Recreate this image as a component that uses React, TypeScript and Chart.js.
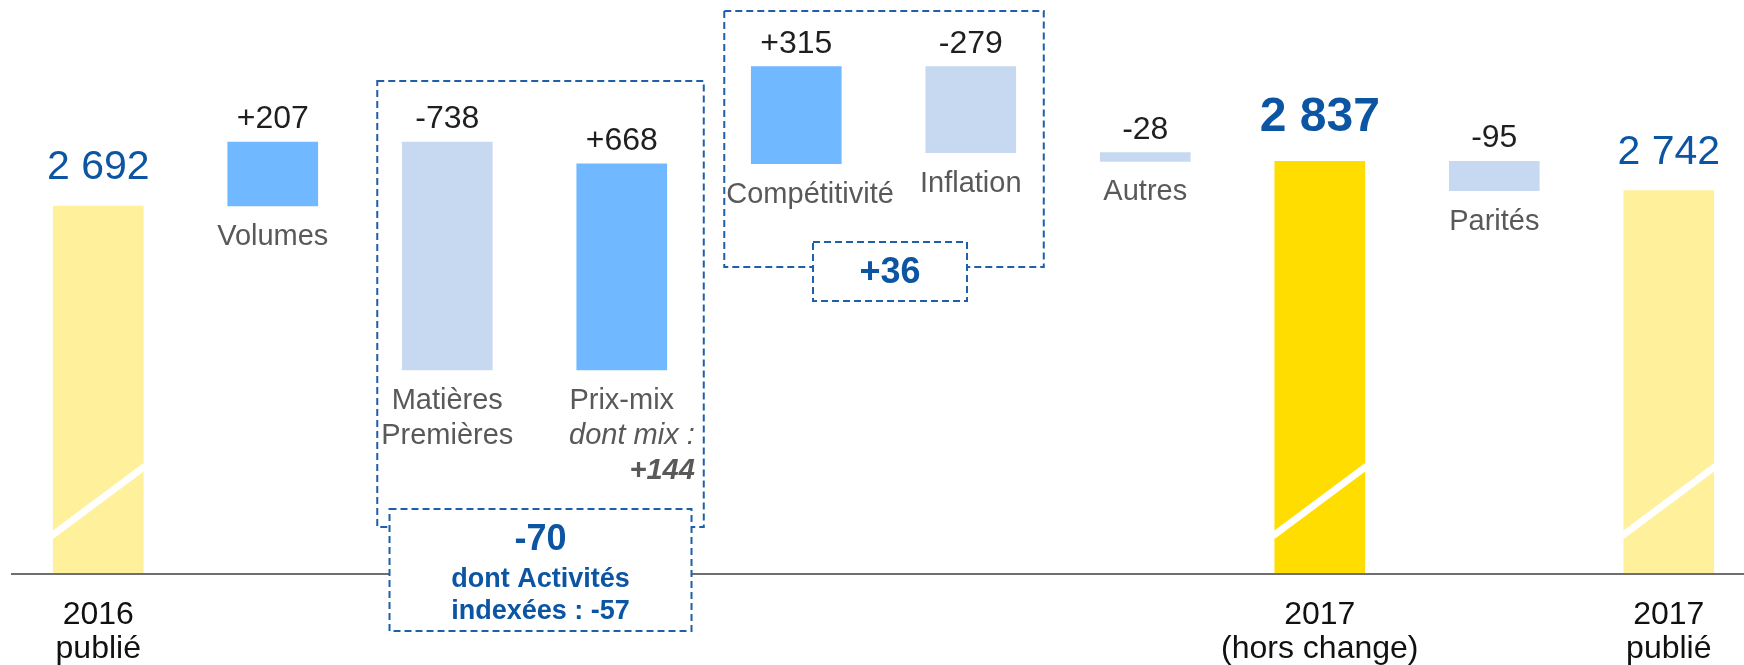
import React, { useEffect, useRef } from 'react';
import { Chart, registerables } from 'chart.js';

Chart.register(...registerables);

// ---------- data ----------
const categories = ['2016 publié', 'Volumes', 'Matières Premières', 'Prix-mix', 'Compétitivité', 'Inflation', 'Autres', '2017 (hors change)', 'Parités', '2017 publié'];
const values = [2692, 207, -738, 668, 315, -279, -28, 2837, -95, 2742];
const isTotal = [true, false, false, false, false, false, false, true, false, true];
const highlightTotal = [false, false, false, false, false, false, false, true, false, false];
const categoryLines: string[][] = [[], ['Volumes'], ['Matières', 'Premières'], ['Prix-mix'], ['Compétitivité'], ['Inflation'], ['Autres'], [], ['Parités'], []];
const axisLabelLines: string[][] = [['2016', 'publié'], [], [], [], [], [], [], ['2017', '(hors change)'], [], ['2017', 'publié']];
const mixValue = 144;
const indexedValue = -57;
const groupMembers = [[2, 3], [4, 5]];

// broken value axis
const AXIS_FLOOR = 1499;
const AXIS_CEIL = 3360;

// ---------- derived ----------
let running = 0;
const ranges = values.map((v, i) => {
  if (isTotal[i]) {
    running = v;
    return [AXIS_FLOOR, v];
  }
  const s = running;
  running += v;
  return [s, running];
});

const fmtTotal = (n: number) => String(n).replace(/\B(?=(\d{3})+(?!\d))/g, ' ');
const fmtDelta = (n: number) => (n > 0 ? '+' : '') + String(n);
const valueLabels = values.map((v, i) => (isTotal[i] ? fmtTotal(v) : fmtDelta(v)));
const groupSums = groupMembers.map((g) => g.reduce((a, i) => a + values[i], 0));

const PALE = '#FFF09B';
const BRIGHT = '#FFDD00';
const POS = '#70B8FF';
const NEG = '#C6D9F1';
const BLUE_TXT = '#0B55A3';
const DASH = '#1F5FAA';
const GREY = '#595959';
const FONT = '"Liberation Sans", Arial, sans-serif';

const colors = values.map((v, i) => (isTotal[i] ? (highlightTotal[i] ? BRIGHT : PALE) : v >= 0 ? POS : NEG));

// group box layout (pixels)
const groupBoxes = [
  {
    padL: 25, padR: 37, top: 81, bottom: 527,
    sum: { w: 302, h: 122, top: 509, dx: 0 },
    lines: [
      { text: fmtDelta(groupSums[0]), font: `bold 36px ${FONT}`, dy: 41 },
      { text: 'dont Activités', font: `bold 27px ${FONT}`, dy: 78 },
      { text: 'indexées : ' + fmtDelta(indexedValue), font: `bold 27px ${FONT}`, dy: 110 },
    ],
  },
  {
    padL: 27, padR: 28, top: 11, bottom: 267,
    sum: { w: 154, h: 59, top: 242, dx: 6 },
    lines: [{ text: fmtDelta(groupSums[1]), font: `bold 36px ${FONT}`, dy: 41 }],
  },
];

function barGeom(bar: any) {
  const p = bar.getProps(['x', 'y', 'base', 'width'], true);
  return {
    x: p.x,
    left: p.x - p.width / 2,
    right: p.x + p.width / 2,
    top: Math.min(p.y, p.base),
    bottom: Math.max(p.y, p.base),
  };
}

const annotPlugin = {
  id: 'annot',
  afterDatasetsDraw(chart: any) {
    const ctx: CanvasRenderingContext2D = chart.ctx;
    const ca = chart.chartArea;
    const bars = chart.getDatasetMeta(0).data.map(barGeom);

    ctx.save();
    // break stripes on totals
    bars.forEach((b: any, i: number) => {
      if (!isTotal[i]) return;
      ctx.strokeStyle = '#ffffff';
      ctx.lineWidth = 7;
      ctx.beginPath();
      ctx.moveTo(b.left - 2, b.bottom - 38);
      ctx.lineTo(b.right + 2, b.bottom - 108);
      ctx.stroke();
    });

    // axis line
    ctx.strokeStyle = '#6f6f6f';
    ctx.lineWidth = 2;
    ctx.beginPath();
    ctx.moveTo(ca.left, ca.bottom);
    ctx.lineTo(ca.right, ca.bottom);
    ctx.stroke();

    const text = (t: string, x: number, y: number, font: string, color: string, align: CanvasTextAlign = 'center') => {
      ctx.font = font;
      ctx.fillStyle = color;
      ctx.textAlign = align;
      ctx.textBaseline = 'alphabetic';
      ctx.fillText(t, x, y);
    };

    // group box rects
    const gRects = groupMembers.map((g, gi) => {
      const cfg = groupBoxes[gi];
      const l = bars[g[0]].left - cfg.padL;
      const r = bars[g[g.length - 1]].right + cfg.padR;
      return { l, r, t: cfg.top, b: cfg.bottom };
    });
    const groupOf = (i: number) => groupMembers.findIndex((g) => g.includes(i));

    // value labels
    bars.forEach((b: any, i: number) => {
      if (isTotal[i]) {
        if (highlightTotal[i]) text(valueLabels[i], b.x, b.top - 30, `bold 48px ${FONT}`, BLUE_TXT);
        else text(valueLabels[i], b.x, b.top - 27, `41px ${FONT}`, BLUE_TXT);
      } else {
        text(valueLabels[i], b.x, b.top - 14, `32px ${FONT}`, '#1f1f1f');
      }
    });

    // category labels under delta bars
    bars.forEach((b: any, i: number) => {
      const lines = categoryLines[i];
      if (!lines.length) return;
      ctx.font = `29px ${FONT}`;
      let cx = b.x;
      const gi = groupOf(i);
      if (gi >= 0) {
        const w = Math.max(...lines.map((t) => ctx.measureText(t).width));
        const rect = gRects[gi];
        if (cx - w / 2 < rect.l + 2) cx = rect.l + 2 + w / 2;
        if (cx + w / 2 > rect.r - 2) cx = rect.r - 2 - w / 2;
      }
      lines.forEach((t, k) => text(t, cx, b.bottom + 39 + k * 35, `29px ${FONT}`, GREY));
      if (categories[i] === 'Prix-mix' && gi >= 0) {
        const rx = gRects[gi].r - 9;
        text('dont mix :', rx, b.bottom + 39 + 35, `italic 29px ${FONT}`, GREY, 'right');
        text(fmtDelta(mixValue), rx, b.bottom + 39 + 70, `italic bold 29px ${FONT}`, GREY, 'right');
      }
    });

    // axis labels under totals
    bars.forEach((b: any, i: number) => {
      axisLabelLines[i].forEach((t, k) => text(t, b.x, ca.bottom + 50 + k * 34, `32px ${FONT}`, '#111111'));
    });

    // dashed group boxes
    ctx.setLineDash([7, 4]);
    ctx.lineWidth = 2;
    ctx.strokeStyle = DASH;
    gRects.forEach((r, gi) => {
      ctx.strokeRect(r.l, r.t, r.r - r.l, r.b - r.t);
    });
    gRects.forEach((r, gi) => {
      const cfg = groupBoxes[gi];
      const cx = (r.l + r.r) / 2 + cfg.sum.dx;
      const sl = cx - cfg.sum.w / 2;
      ctx.setLineDash([]);
      ctx.fillStyle = '#ffffff';
      ctx.fillRect(sl, cfg.sum.top, cfg.sum.w, cfg.sum.h);
      ctx.setLineDash([7, 4]);
      ctx.strokeStyle = DASH;
      ctx.lineWidth = 2;
      ctx.strokeRect(sl, cfg.sum.top, cfg.sum.w, cfg.sum.h);
      cfg.lines.forEach((ln) => text(ln.text, cx, cfg.sum.top + ln.dy, ln.font, BLUE_TXT));
    });
    ctx.restore();
  },
};

export default function App() {
  const ref = useRef<HTMLCanvasElement>(null);
  useEffect(() => {
    const canvas = ref.current;
    if (!canvas) return;
    const chart = new Chart(canvas, {
      type: 'bar',
      data: {
        labels: categories,
        datasets: [
          {
            data: ranges.map((r, i) => ({ x: i, y: r })) as any,
            backgroundColor: colors,
            borderWidth: 0,
            barThickness: 90,
          },
        ],
      },
      options: {
        responsive: false,
        animation: false,
        devicePixelRatio: 1,
        layout: { padding: { left: 11, right: 0, top: 0, bottom: 91 } },
        plugins: { legend: { display: false }, tooltip: { enabled: false } },
        scales: {
          x: { type: 'linear', min: -0.5, max: 9.431, offset: false, display: false },
          y: { min: AXIS_FLOOR, max: AXIS_CEIL, display: false },
        },
      } as any,
      plugins: [annotPlugin],
    });
    return () => chart.destroy();
  }, []);
  return (
    <div style={{ position: 'fixed', left: 0, top: 0, width: 1744, height: 665, background: '#ffffff' }}>
      <canvas ref={ref} width={1744} height={665} style={{ display: 'block' }} />
    </div>
  );
}
